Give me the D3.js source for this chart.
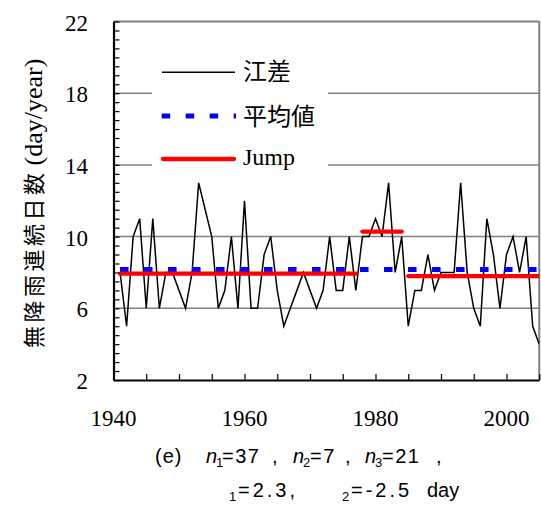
<!DOCTYPE html>
<html>
<head>
<meta charset="utf-8">
<script src="https://cdn.jsdelivr.net/npm/d3@7"></script>
<style>
  body { margin: 0; background: #fff; }
  svg { display: block; }
</style>
</head>
<body>
<svg id="chart"></svg>
<script>
// annual values (江差, 1941-2005)
const years = [
  1941, 1942, 1943, 1944, 1945, 1946, 1947, 1948, 1949, 1950,
  1951, 1952, 1953, 1954, 1955, 1956, 1957, 1958, 1959, 1960,
  1961, 1962, 1963, 1964, 1965, 1966, 1967, 1968, 1969, 1970,
  1971, 1972, 1973, 1974, 1975, 1976, 1977, 1978, 1979, 1980,
  1981, 1982, 1983, 1984, 1985, 1986, 1987, 1988, 1989, 1990,
  1991, 1992, 1993, 1994, 1995, 1996, 1997, 1998, 1999, 2000,
  2001, 2002, 2003, 2004, 2005,
];
const dryDays = [
  8, 5, 10, 11, 6, 11, 6, 8, 8, 7,
  6, 8, 13, 11.5, 10, 6, 7, 10, 6, 12,
  6, 6, 9, 10, 7, 5, 6, 7, 8, 7,
  6, 7, 10, 7, 7, 10, 7, 10, 10, 11,
  10, 13, 8, 10, 5, 7, 7, 9, 7, 8,
  8, 8, 13, 8, 6, 5, 11, 9, 6, 9,
  10, 8, 10, 5, 4,
];
const meanValue = 8.17;

const jumpStarts = [1941, 1978, 1985];
const jumpEnds = [1977, 1984, 2005];
const jumpLevels = [7.93, 10.28, 7.8];

const yLabelTicks = [2, 6, 10, 14, 18, 22];
const gridTicks = [6, 10, 14, 18, 22];
const xLabelTicks = [1940, 1960, 1980, 2000];
const legendLabels = ["江差", "平均値", "Jump"];

const TOTAL_WIDTH = 541;
const TOTAL_HEIGHT = 506;

const CHART_START_X = 113.5;
const CHART_END_X = 539.25;
const CHART_START_Y = 21.5;
const CHART_END_Y = 380;

const SERIF = "'Liberation Serif', 'Times New Roman', serif";
const SANS = "'Liberation Sans', Arial, sans-serif";
const CJK = "'Noto Sans CJK JP', 'Noto Sans CJK SC', sans-serif";

const svg = d3
  .select("#chart")
  .attr("width", TOTAL_WIDTH)
  .attr("height", TOTAL_HEIGHT)
  .style("background-color", "#fff");

const xScale = d3.scaleLinear().domain([1940, 2005]).range([CHART_START_X, CHART_END_X]);
const yScale = d3.scaleLinear().domain([2, 22]).range([CHART_END_Y, CHART_START_Y]);

// grid lines + right frame
svg
  .selectAll(".grid")
  .data(gridTicks)
  .join("line")
  .classed("grid", true)
  .attr("x1", CHART_START_X)
  .attr("x2", CHART_END_X)
  .attr("y1", (d) => yScale(d))
  .attr("y2", (d) => yScale(d))
  .attr("stroke", "#808080")
  .attr("stroke-width", (d) => (d === 22 ? 2 : 1.5));

svg
  .append("line")
  .attr("x1", CHART_END_X)
  .attr("x2", CHART_END_X)
  .attr("y1", CHART_START_Y)
  .attr("y2", CHART_END_Y)
  .attr("stroke", "#808080")
  .attr("stroke-width", 2);

// clip for the series
svg
  .append("clipPath")
  .attr("id", "plot-clip")
  .append("rect")
  .attr("x", CHART_START_X)
  .attr("y", CHART_START_Y)
  .attr("width", CHART_END_X - CHART_START_X)
  .attr("height", CHART_END_Y - CHART_START_Y);

const plot = svg.append("g").attr("clip-path", "url(#plot-clip)");

const line = d3
  .line()
  .x((d, i) => xScale(years[i]))
  .y((d) => yScale(d));

plot
  .append("path")
  .datum(dryDays)
  .attr("d", line)
  .attr("fill", "none")
  .attr("stroke", "black")
  .attr("stroke-width", 1.5)
  .attr("stroke-linejoin", "miter");

// mean (blue dashed)
plot
  .append("line")
  .attr("x1", xScale(years[0]))
  .attr("x2", xScale(years[years.length - 1]))
  .attr("y1", yScale(meanValue))
  .attr("y2", yScale(meanValue))
  .attr("stroke", "#0000ff")
  .attr("stroke-width", 5)
  .attr("stroke-dasharray", "8.5,15.5");

// jump levels (red)
plot
  .selectAll(".jump")
  .data(jumpLevels)
  .join("line")
  .classed("jump", true)
  .attr("x1", (d, i) => xScale(jumpStarts[i]))
  .attr("x2", (d, i) => xScale(jumpEnds[i]))
  .attr("y1", (d) => yScale(d))
  .attr("y2", (d) => yScale(d))
  .attr("stroke", "#ff0000")
  .attr("stroke-width", 4.3)
  .attr("stroke-linecap", "round");

// axes (ticks point inward)
const yAxis = d3
  .axisLeft(yScale)
  .tickValues(d3.range(2, 22.01, 0.5))
  .tickSize(-6)
  .tickSizeOuter(0)
  .tickFormat("");

const xAxis = d3
  .axisBottom(xScale)
  .tickValues(d3.range(1940, 2006, 5))
  .tickSize(-6)
  .tickSizeOuter(0)
  .tickFormat("");

const yAxisG = svg
  .append("g")
  .attr("transform", `translate(${CHART_START_X}, 0)`)
  .call(yAxis);

const xAxisG = svg
  .append("g")
  .attr("transform", `translate(0, ${CHART_END_Y})`)
  .call(xAxis);

[yAxisG, xAxisG].forEach((g) => {
  g.select(".domain").attr("stroke", "black").attr("stroke-width", 2.2);
  g.selectAll(".tick line").attr("stroke", "black").attr("stroke-width", 1.2);
});

// tick labels
svg
  .selectAll(".ylabel")
  .data(yLabelTicks)
  .join("text")
  .classed("ylabel", true)
  .attr("x", 88)
  .attr("y", (d) => yScale(d) + 9)
  .attr("text-anchor", "end")
  .style("font-family", SERIF)
  .style("font-size", "23px")
  .text((d) => d);

svg
  .selectAll(".xlabel")
  .data(xLabelTicks)
  .join("text")
  .classed("xlabel", true)
  .attr("x", (d) => xScale(d))
  .attr("y", 426)
  .attr("text-anchor", "middle")
  .style("font-family", SERIF)
  .style("font-size", "23px")
  .text((d) => d);

// y title
const yTitle = svg
  .append("text")
  .attr("transform", "translate(42, 348) rotate(-90)")
  .attr("x", 0)
  .attr("y", 0);

yTitle
  .append("tspan")
  .style("font-family", CJK)
  .style("font-size", "22px")
  .style("letter-spacing", "3.5px")
  .text("無降雨連続日数");

yTitle
  .append("tspan")
  .attr("dx", 4)
  .style("font-family", SERIF)
  .style("font-size", "26px")
  .text("(day/year)");

// legend
svg
  .append("rect")
  .attr("x", 152)
  .attr("y", 48)
  .attr("width", 176)
  .attr("height", 132)
  .attr("fill", "white");

const legendY = [72.3, 116, 159];
const legendG = svg.append("g");

legendG
  .append("line")
  .attr("x1", 162)
  .attr("x2", 235)
  .attr("y1", legendY[0])
  .attr("y2", legendY[0])
  .attr("stroke", "black")
  .attr("stroke-width", 1.5);

legendG
  .append("line")
  .attr("x1", 161.7)
  .attr("x2", 236)
  .attr("y1", legendY[1])
  .attr("y2", legendY[1])
  .attr("stroke", "#0000ff")
  .attr("stroke-width", 5)
  .attr("stroke-dasharray", "8.5,15.5");

legendG
  .append("line")
  .attr("x1", 163)
  .attr("x2", 234)
  .attr("y1", legendY[2])
  .attr("y2", legendY[2])
  .attr("stroke", "#ff0000")
  .attr("stroke-width", 4.3)
  .attr("stroke-linecap", "round");

legendG
  .selectAll(".legend-text")
  .data(legendLabels)
  .join("text")
  .classed("legend-text", true)
  .attr("x", 243)
  .attr("y", (d, i) => [80, 124.5, 165][i])
  .style("font-family", (d, i) => (i === 2 ? SERIF : CJK))
  .style("font-size", (d, i) => (i === 2 ? "24px" : "24px"))
  .text((d) => d);

// caption
const caption = svg.append("g").style("font-family", SANS).attr("fill", "black");

function captionText(x, y, str, opts = {}) {
  const t = caption
    .append("text")
    .attr("x", x)
    .attr("y", y)
    .style("font-size", (opts.size || 20) + "px")
    .text(str);
  if (opts.italic) t.style("font-style", "italic");
  if (opts.spacing) t.style("letter-spacing", opts.spacing + "px");
  return t;
}

const L1 = 463;
captionText(155, L1, "(e)", { spacing: 1 });
captionText(206, L1, "n", { italic: true });
captionText(216, L1 + 4, "1", { size: 13 });
captionText(222, L1, "=37", { spacing: 1.5 });
captionText(272, L1, ",");
captionText(293, L1, "n", { italic: true });
captionText(303, L1 + 4, "2", { size: 13 });
captionText(310, L1, "=7", { spacing: 1.5 });
captionText(345, L1, ",");
captionText(365, L1, "n", { italic: true });
captionText(375, L1 + 4, "3", { size: 13 });
captionText(382, L1, "=21", { spacing: 1.5 });
captionText(436, L1, ",");

const L2 = 497;
captionText(229, L2 + 4, "1", { size: 13 });
captionText(238, L2, "=2.3,", { spacing: 3 });
captionText(342, L2 + 4, "2", { size: 13 });
captionText(351, L2, "=-2.5", { spacing: 3 });
captionText(427, L2, "day");
</script>
</body>
</html>
